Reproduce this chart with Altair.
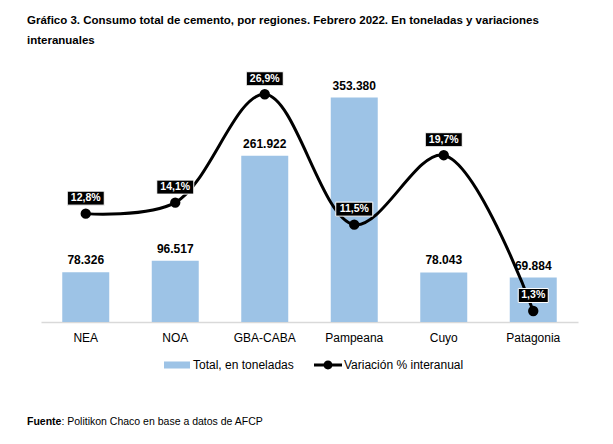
import altair as alt
import pandas as pd

regiones = ["NEA", "NOA", "GBA-CABA", "Pampeana", "Cuyo", "Patagonia"]
toneladas = [78326, 96517, 261922, 353380, 78043, 69884]
variacion = [12.8, 14.1, 26.9, 11.5, 19.7, 1.3]
series = ["Total, en toneladas", "Variación % interanual"]
titulo = [
    "Gráfico 3. Consumo total de cemento, por regiones. Febrero 2022. En toneladas y variaciones",
    "interanuales",
]
fuente_bold = "Fuente"
fuente_rest = ": Politikon Chaco en base a datos de AFCP"

FONT = "Liberation Sans"
BLUE = "#9DC3E6"

df = pd.DataFrame({"region": regiones, "toneladas": toneladas, "variacion": variacion})

x_enc = alt.X(
    "region:N",
    sort=regiones,
    scale=alt.Scale(paddingInner=0.475, paddingOuter=0.2375),
    axis=alt.Axis(
        title=None, labelAngle=0, ticks=False, tickSize=0, labelPadding=10,
        labelFontSize=12, labelFont=FONT, labelColor="#000000",
        domainColor="#D9D9D9", domainWidth=1.5, grid=False,
    ),
)
y_bar = alt.Y("toneladas:Q", scale=alt.Scale(domain=[0, 400000]), axis=None)
y_pct = alt.Y("variacion:Q", scale=alt.Scale(domain=[0, 30]), axis=None)

base = alt.Chart(df).encode(x=x_enc)

swatch_path = "M-1,-0.27H1V0.27H-1Z"
line_path = "M-1,-0.107H1V0.107H-1Z M0.32,0A0.32,0.32,0,1,1,-0.32,0A0.32,0.32,0,1,1,0.32,0Z"

bars = base.mark_bar().transform_calculate(
    serie="'" + series[0] + "'"
).encode(
    y=y_bar,
    fill=alt.Fill(
        "serie:N",
        scale=alt.Scale(domain=[series[0]], range=[BLUE]),
        legend=alt.Legend(
            title=None, orient="none", direction="horizontal",
            legendX=123, legendY=284,
            labelFont=FONT, labelFontSize=12, labelColor="#000000",
            labelOffset=3, symbolSize=676, symbolType=swatch_path,
            symbolStrokeWidth=0, symbolOpacity=1,
        ),
    ),
)

bar_text = base.mark_text(
    dy=-8, baseline="alphabetic", fontWeight="bold", fontSize=12, font=FONT, color="#000000"
).transform_calculate(
    lbl="replace(format(datum.toneladas, ','), ',', '.')"
).encode(y=y_bar, text="lbl:N")

line = base.mark_line(color="#000000", strokeWidth=3, interpolate="catmull-rom").encode(y=y_pct)

points = base.mark_circle(size=70, color="#000000", opacity=1).transform_calculate(
    serie="'" + series[1] + "'"
).encode(
    y=y_pct,
    stroke=alt.Stroke(
        "serie:N",
        scale=alt.Scale(domain=[series[1]], range=["#000000"]),
        legend=alt.Legend(
            title=None, orient="none", direction="horizontal",
            legendX=273, legendY=283,
            labelFont=FONT, labelFontSize=12, labelColor="#000000",
            labelOffset=2, symbolSize=784, symbolType=line_path,
            symbolFillColor="#000000", symbolStrokeWidth=0, symbolOpacity=1,
        ),
    ),
)

boxes = base.mark_point(
    filled=True, fill="#000000", stroke="#FFFFFF", strokeWidth=1, opacity=1, yOffset=-15.5
).transform_calculate(
    lbl="replace(format(datum.variacion, '.1f'), '.', ',') + '%'"
).transform_calculate(
    hw="(7 * length(datum.lbl) + 2) / 40"
).transform_calculate(
    boxpath="'M' + (-datum.hw) + ',-0.35H' + datum.hw + 'V0.35H' + (-datum.hw) + 'Z'"
).encode(
    y=y_pct,
    shape=alt.Shape("boxpath:N", scale=None),
    size=alt.value(1600),
)

box_text = base.mark_text(
    yOffset=-15.5, baseline="middle", fontWeight="bold", fontSize=10.5, font=FONT, color="#FFFFFF"
).transform_calculate(
    lbl="replace(format(datum.variacion, '.1f'), '.', ',') + '%'"
).encode(y=y_pct, text="lbl:N")

foot1 = alt.Chart(pd.DataFrame({"t": [fuente_bold]})).mark_text(
    align="left", baseline="middle", fontWeight="bold", fontSize=10.5, font=FONT, color="#000000"
).encode(x=alt.value(-14), y=alt.value(354), text="t:N")
foot2 = alt.Chart(pd.DataFrame({"t": [fuente_rest]})).mark_text(
    align="left", baseline="middle", fontSize=10.5, font=FONT, color="#000000"
).encode(x=alt.value(20.4), y=alt.value(354), text="t:N")

chart = alt.layer(
    bars, bar_text, line, points, boxes, box_text, foot1, foot2
).resolve_scale(y="independent").properties(
    width=537, height=254,
    autosize=alt.AutoSizeParams(type="none"),
    padding={"left": 33, "top": 60, "right": 20, "bottom": 110},
    background="#FFFFFF",
    title=alt.TitleParams(
        text=titulo, anchor="start", frame="group", dx=-14, offset=22,
        fontSize=11.5, font=FONT, fontWeight="bold", color="#000000", lineHeight=20,
    ),
).configure_view(stroke=None).configure_legend(padding=0)

chart.save("out.html", embed_options={"renderer": "svg", "actions": False})
